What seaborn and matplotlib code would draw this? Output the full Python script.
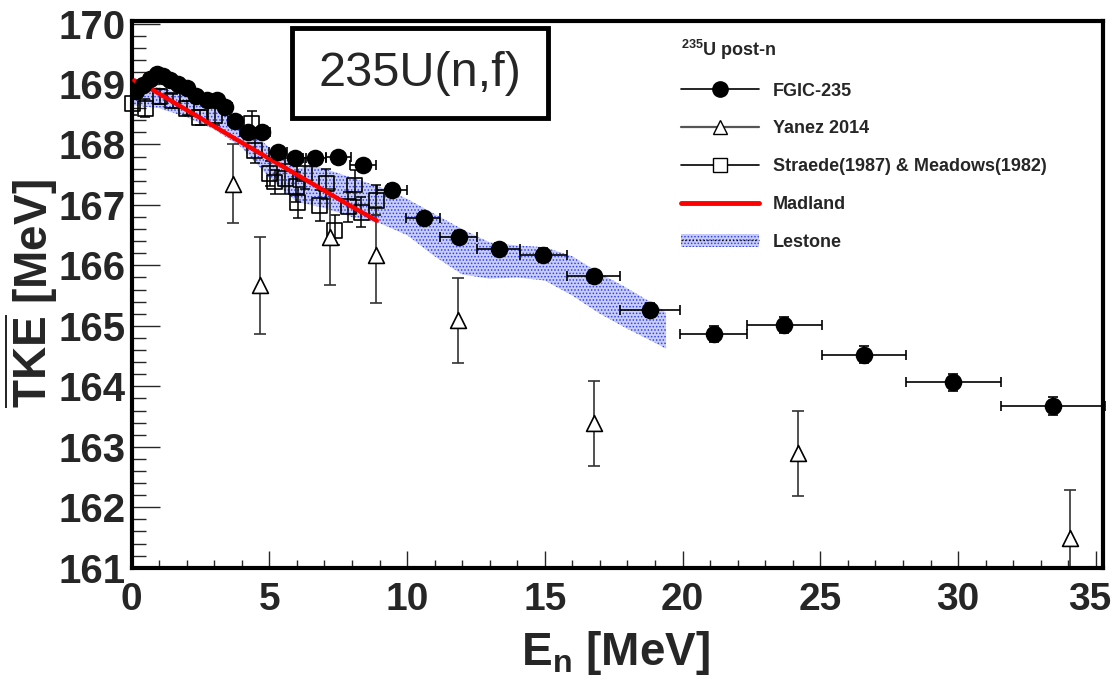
"""
TKE vs incident neutron energy for 235U(n,f), ROOT-style layout
"""
import matplotlib
matplotlib.use("Agg")
import matplotlib.pyplot as plt
from matplotlib.lines import Line2D
from matplotlib.patches import Patch, Rectangle
from matplotlib.ticker import MultipleLocator, FuncFormatter
import seaborn as sns

# FGIC-235 (filled circles), asymmetric energy bins
fgic_e = [0.15, 0.4, 0.67, 0.91, 1.15, 1.4, 1.7, 2.0, 2.35, 2.72, 3.09, 3.4,
          3.75, 4.23, 4.72, 5.32, 5.95, 6.65, 7.5, 8.4, 9.45,
          10.6, 11.87, 13.33, 14.95, 16.77, 18.81, 21.14, 23.68, 26.58, 29.8, 33.43]
fgic_tke = [168.88, 168.98, 169.09, 169.17, 169.14, 169.07, 169.0, 168.93, 168.8,
            168.74, 168.73, 168.62, 168.38, 168.21, 168.21, 167.88, 167.77, 167.78,
            167.79, 167.66, 167.24,
            166.78, 166.47, 166.27, 166.17, 165.82, 165.26, 164.87, 165.01, 164.52,
            164.07, 163.68]
fgic_de_lo = [0.1, 0.1, 0.12, 0.12, 0.13, 0.14, 0.15, 0.17, 0.18, 0.2, 0.22, 0.24,
              0.26, 0.28, 0.3, 0.33, 0.37, 0.42, 0.45, 0.47, 0.55,
              0.63, 0.69, 0.78, 0.85, 0.98, 1.09, 1.24, 1.35, 1.51, 1.68, 1.88]
fgic_de_hi = [0.1, 0.1, 0.12, 0.12, 0.13, 0.14, 0.15, 0.17, 0.18, 0.2, 0.22, 0.24,
              0.26, 0.28, 0.3, 0.33, 0.37, 0.42, 0.45, 0.47, 0.55,
              0.58, 0.68, 0.77, 0.84, 0.95, 1.09, 1.19, 1.39, 1.54, 1.75, 1.9]
fgic_dtke = [0.05, 0.05, 0.05, 0.05, 0.05, 0.05, 0.05, 0.05, 0.06, 0.06, 0.06, 0.06,
             0.07, 0.07, 0.07, 0.08, 0.08, 0.08, 0.09, 0.09, 0.1,
             0.1, 0.1, 0.1, 0.11, 0.11, 0.12, 0.13, 0.13, 0.14, 0.14, 0.15]

# Yanez 2014 (open triangles)
yanez_e = [3.69, 4.66, 7.19, 8.88, 11.84, 16.8, 24.18, 34.06]
yanez_tke = [167.35, 165.67, 166.47, 166.17, 165.09, 163.39, 162.89, 161.49]
yanez_dtke = [0.65, 0.8, 0.8, 0.8, 0.7, 0.7, 0.7, 0.8]

# Straede(1987) & Meadows(1982) (open squares)
str_e = [0.02, 0.5, 1.03, 1.5, 2.0, 2.48, 3.03, 4.36, 4.47, 5.02, 5.2, 5.58, 5.98,
         6.03, 6.29, 6.83, 7.07, 7.37, 7.86, 8.1, 8.34, 8.88]
str_tke = [168.68, 168.6, 168.79, 168.72, 168.6, 168.45, 168.48, 168.35, 167.9,
           167.52, 167.38, 167.43, 167.3, 167.04, 167.52, 166.99, 167.35, 166.58,
           166.97, 167.33, 166.88, 167.08]
str_dtke = [0.2, 0.15, 0.12, 0.12, 0.12, 0.12, 0.15, 0.2, 0.2, 0.2, 0.2, 0.25, 0.25,
            0.25, 0.25, 0.25, 0.25, 0.25, 0.25, 0.25, 0.25, 0.25]

# Madland systematics (red line)
mad_e = [0.1, 0.7, 2.0, 4.0, 6.0, 8.0, 8.9]
mad_tke = [169.06, 168.92, 168.57, 168.03, 167.5, 166.97, 166.74]

# Lestone band
les_e = [0.0, 1.0, 2.0, 3.0, 4.0, 5.0, 6.0, 6.5, 7.0, 8.0, 9.0, 10.0, 11.0, 12.0,
         13.0, 14.0, 15.0, 16.0, 17.0, 18.0, 19.0, 19.4]
les_lo = [168.65, 168.6, 168.45, 168.25, 167.95, 167.45, 167.05, 167.0, 166.95,
          166.8, 166.7, 166.5, 166.15, 165.85, 165.78, 165.8, 165.75, 165.5, 165.2,
          164.95, 164.72, 164.62]
les_hi = [168.95, 168.95, 168.8, 168.65, 168.35, 167.95, 167.6, 167.65, 167.6,
          167.45, 167.3, 167.1, 166.85, 166.6, 166.38, 166.33, 166.3, 166.15, 165.87,
          165.62, 165.35, 165.22]

sns.set_style("ticks")
plt.rcParams['font.family'] = ['Liberation Sans', 'DejaVu Sans']
plt.rcParams['font.weight'] = 'bold'
plt.rcParams['axes.labelweight'] = 'bold'
plt.rcParams['mathtext.fontset'] = 'custom'
plt.rcParams['mathtext.rm'] = 'Liberation Sans:bold'
plt.rcParams['mathtext.bf'] = 'Liberation Sans:bold'
plt.rcParams['mathtext.it'] = 'Liberation Sans:bold'
plt.rcParams['hatch.linewidth'] = 0.7

band_face = '#c9cef8'
band_dots = '#3040f0'

fig, ax = plt.subplots(figsize=(11.15, 6.84), dpi=100)
fig.subplots_adjust(left=0.118, right=0.989, bottom=0.170, top=0.970)

ax.fill_between(les_e, les_lo, les_hi, facecolor=band_face, edgecolor=band_dots,
                hatch='.....', linewidth=0, zorder=1)

sns.lineplot(x=mad_e, y=mad_tke, color='red', linewidth=3.2, ax=ax, zorder=4)

ax.errorbar(str_e, str_tke, yerr=str_dtke, fmt='none', ecolor='black',
            elinewidth=1.1, capsize=3.5, capthick=1.1, zorder=2)
sns.scatterplot(x=str_e, y=str_tke, marker='s', s=115, facecolors='none',
                edgecolor='black', linewidth=1.2, ax=ax, zorder=3, clip_on=False)

ax.errorbar(yanez_e, yanez_tke, yerr=yanez_dtke, fmt='none', ecolor='#333333',
            elinewidth=1.2, capsize=4, capthick=1.2, zorder=2)
sns.scatterplot(x=yanez_e, y=yanez_tke, marker='^', s=130, color='white',
                edgecolor='black', linewidth=1.2, ax=ax, zorder=5)

ax.errorbar(fgic_e, fgic_tke, xerr=[fgic_de_lo, fgic_de_hi], yerr=fgic_dtke,
            fmt='none', ecolor='black', elinewidth=1.2, capsize=3.5, capthick=1.2,
            zorder=5, clip_on=False)
sns.scatterplot(x=fgic_e, y=fgic_tke, marker='o', s=160, color='black',
                edgecolor='black', linewidth=0, ax=ax, zorder=6)

x_max_label = 35
ax.set_xlim(0, 35.25)
ax.set_ylim(161, 170.05)
ax.xaxis.set_major_locator(MultipleLocator(5))
ax.xaxis.set_minor_locator(MultipleLocator(1))
ax.yaxis.set_major_locator(MultipleLocator(1))
ax.yaxis.set_minor_locator(MultipleLocator(0.2))
# the last label sits at the canvas edge; it is drawn separately below
ax.xaxis.set_major_formatter(FuncFormatter(
    lambda v, p: '' if abs(v - x_max_label) < 1e-6 else f'{v:.0f}'))
ax.tick_params(axis='y', which='major', direction='in', length=20, width=1,
               labelsize=29, pad=4)
ax.tick_params(axis='y', which='minor', direction='in', length=10, width=1)
ax.tick_params(axis='x', which='major', direction='in', length=12, width=1,
               labelsize=28, pad=10)
ax.tick_params(axis='x', which='minor', direction='in', length=6, width=1)
ax.annotate(f'{x_max_label}', xy=(x_max_label, 0), xycoords=('data', 'axes fraction'),
            xytext=(11, -10), textcoords='offset points', ha='right', va='top',
            fontsize=28, fontweight='bold')
for sp in ax.spines.values():
    sp.set_visible(True)
    sp.set_linewidth(3)
    sp.set_color('black')

ax.set_xlabel(r'E$_{\mathrm{n}}$ [MeV]', fontsize=33, fontweight='bold')
ax.set_ylabel(r'$\overline{\mathrm{TKE}}$ [MeV]', fontsize=33, fontweight='bold')
ax.xaxis.set_label_coords(0.498, -0.112)
ax.yaxis.set_label_coords(-0.074, 0.5)

handles = [
    Line2D([], [], color='black', lw=1.2, marker='o', ms=11, mfc='black', mec='black'),
    Line2D([], [], color='#555555', lw=1.6, marker='^', ms=10, mfc='white', mec='black'),
    Line2D([], [], color='black', lw=1.2, marker='s', ms=10, mfc='white', mec='black'),
    Line2D([], [], color='red', lw=3.5),
    (Patch(facecolor=band_face, edgecolor=band_dots, hatch='.....', lw=0),
     Line2D([], [], color='black', lw=1.0, ls=':')),
]
labels = ['FGIC-235', 'Yanez 2014', 'Straede(1987) & Meadows(1982)', 'Madland', 'Lestone']
leg = ax.legend(handles, labels, title=r'$^{235}$U post-n', loc='upper left',
                bbox_to_anchor=(0.603, 0.958), bbox_transform=fig.transFigure,
                frameon=False, fontsize=13, title_fontsize=13, handlelength=4.3,
                handletextpad=0.75, labelspacing=1.15, alignment='left', borderpad=0)

box = Rectangle((0.2619, 0.8275), 0.2296, 0.1315, transform=fig.transFigure,
                facecolor='white', edgecolor='black', linewidth=3.5, zorder=10)
fig.add_artist(box)
fig.text(0.3767, 0.893, '235U(n,f)', fontsize=35, fontweight='normal',
         ha='center', va='center', zorder=11)

fig.savefig('out.png', dpi=100)
